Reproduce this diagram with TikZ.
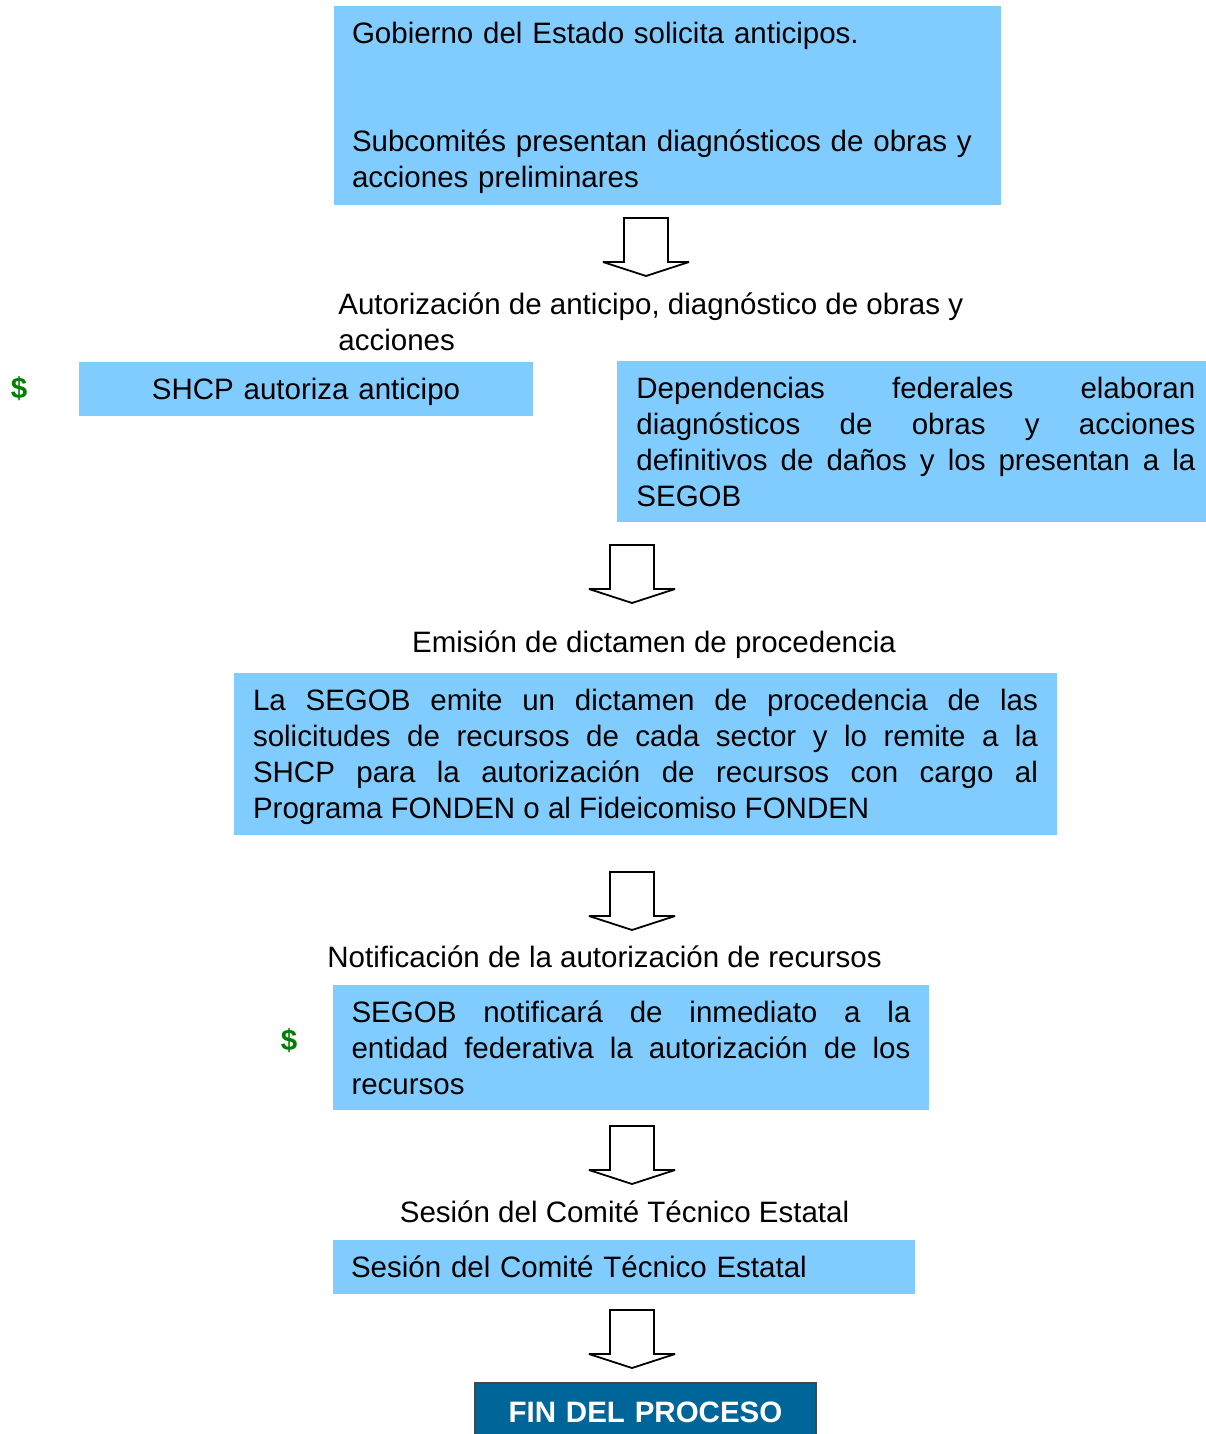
\documentclass[tikz,border=0pt]{standalone}
\usepackage{fontspec}
\setmainfont{Liberation Sans}
\usepackage{xcolor}
\tolerance=10000
\hyphenpenalty=10000

\definecolor{cajaazul}{RGB}{128,204,255}
\definecolor{finazul}{RGB}{0,102,153}
\definecolor{fingris}{RGB}{70,70,70}
\definecolor{pesoverde}{RGB}{0,128,0}

\tikzset{
  texto/.style={font=\fontsize{14.75pt}{18pt}\selectfont, inner sep=0pt},
  caja/.style={texto, fill=cajaazul, inner xsep=9pt, anchor=north, text height=18.5pt},
  justo/.style={align=justify},
  pesos/.style={font=\fontsize{14.75pt}{18pt}\selectfont\bfseries, text=pesoverde, inner sep=0pt},
  flecha/.pic={
    \draw[line width=0.9pt, miter limit=2] (-22,0) -- (22,0) -- (22,44) -- (43,44) -- (0,58)
      -- (-43,44) -- (-22,44) -- cycle;
  }
}

\begin{document}
\begin{tikzpicture}[x=0.5pt, y=-0.5pt]

    \useasboundingbox (0,0) rectangle (1205,1434);

    % Solicitud
    \node[caja, text width=315.5pt, align=left, text depth=81pt] (solicitud) at (667.5,6)
      {Gobierno del Estado solicita anticipos.\\[36pt]Subcomités presentan diagnósticos de obras y\\acciones preliminares};
    \pic at (646,218) {flecha};

    % Autorizacion de anticipo
    \node[texto, align=left, anchor=west] (autorizacion) at (338,322)
      {Autorización de anticipo, diagnóstico de obras y\\acciones};
    \node[pesos] (pesosA) at (19,389) {\$};
    \node[caja, text width=209pt, align=center, text depth=8.5pt] (shcp) at (306,362) {SHCP autoriza anticipo};
    \node[caja, justo, anchor=north west, inner xsep=9.5pt, text width=279.5pt, text depth=62pt] (dependencias) at (617,361)
      {Dependencias federales elaboran\linebreak diagnósticos de obras y acciones\linebreak definitivos de daños y los presentan a la\linebreak SEGOB};
    \pic at (632,545) {flecha};

    % Dictamen
    \node[texto, anchor=base] (emision) at (654,652) {Emisión de dictamen de procedencia};
    \node[caja, justo, inner xsep=9.5pt, text width=392.5pt, text depth=62.5pt] (dictamen) at (645.5,673)
      {La SEGOB emite un dictamen de procedencia de las\linebreak solicitudes de recursos de cada sector y lo remite a la\linebreak SHCP para la autorización de recursos con cargo al\linebreak Programa FONDEN o al Fideicomiso FONDEN};
    \pic at (632,872) {flecha};

    % Notificacion
    \node[texto, anchor=base] (notificacion) at (604.5,967) {Notificación de la autorización de recursos};
    \node[pesos] (pesosB) at (289,1041) {\$};
    \node[caja, justo, inner xsep=9.25pt, text width=279.5pt, text depth=44pt] (segob) at (631,985)
      {SEGOB notificará de inmediato a la\linebreak entidad federativa la autorización de los\linebreak recursos};
    \pic at (632,1126) {flecha};

    % Sesion
    \node[texto, anchor=base] (sesion) at (624.5,1222) {Sesión del Comité Técnico Estatal};
    \node[caja, text width=273pt, align=left, text depth=8.5pt] (comite) at (624,1240) {Sesión del Comité Técnico Estatal};
    \pic at (632,1310) {flecha};

    % Fin
    \node[draw=fingris, line width=1pt, fill=finazul, text=white, font=\fontsize{14.75pt}{18pt}\selectfont\bfseries,
      text width=170.5pt, align=center, text height=19.5pt, text depth=9.5pt, inner sep=0pt, anchor=north] (fin) at (645.5,1382) {FIN DEL PROCESO};

\end{tikzpicture}
\end{document}
